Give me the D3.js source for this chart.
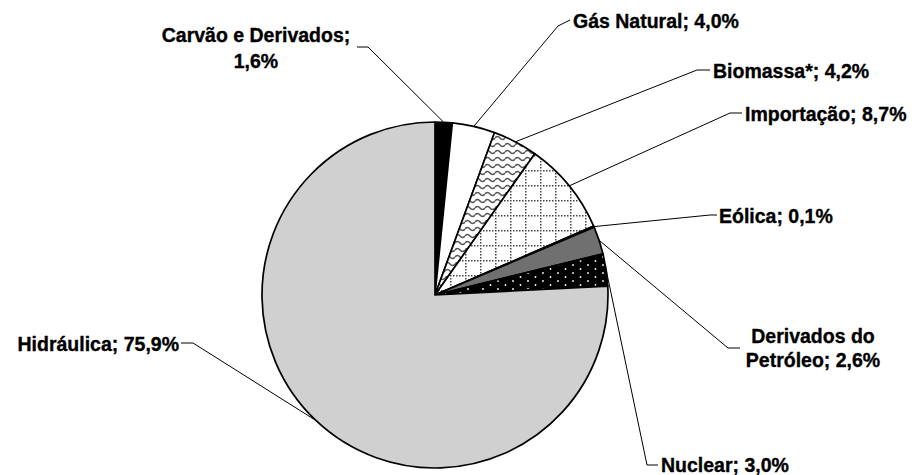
<!DOCTYPE html>
<html>
<head>
<meta charset="utf-8">
<script src="https://cdn.jsdelivr.net/npm/d3@7"></script>
<style>
  body { margin: 0; background: #fff; }
  text { font-family: "Liberation Sans", Arial, sans-serif; font-weight: bold; font-size: 19.5px; fill: #000; stroke: #000; stroke-width: 0.35px; }
</style>
</head>
<body>
<div class="board"></div>
<script>
// data, clockwise from 12 o'clock
var categories = ["Carvão e Derivados", "Gás Natural", "Biomassa*", "Importação", "Eólica",
                  "Derivados do Petróleo", "Nuclear", "Hidráulica"];
var values = [1.6, 4.0, 4.2, 8.7, 0.1, 2.6, 3.0, 75.9];
var valueLabels = ["1,6%", "4,0%", "4,2%", "8,7%", "0,1%", "2,6%", "3,0%", "75,9%"];

// label layout: elbow point, end of horizontal tick, text lines
var labelLayout = [
  {elbow: [368, 47], tick: [357, 47], anchor: "middle", x: 256, lines: [[42, "Carvão e Derivados;"], [68, "{v}"]]},
  {elbow: [558, 26], tick: [570, 20], anchor: "start", x: 573, lines: [[28, "{c}; {v}"]]},
  {elbow: [697, 70], tick: [710, 70], anchor: "start", x: 713, lines: [[78, "{c}; {v}"]]},
  {elbow: [730, 113], tick: [742, 113], anchor: "start", x: 745, lines: [[121, "{c}; {v}"]]},
  {elbow: [710, 215], tick: [717, 215], anchor: "start", x: 719, lines: [[223, "{c}; {v}"]]},
  {elbow: [728, 348], tick: [740, 348], anchor: "middle", x: 813, lines: [[343, "Derivados do"], [367, "Petróleo; {v}"]]},
  {elbow: [647, 465], tick: [658, 465], anchor: "start", x: 661, lines: [[472, "{c}; {v}"]]},
  {elbow: [193, 343], tick: [181, 343], anchor: "end", x: 179, lines: [[351, "{c}; {v}"]]}
];

var W = 917, H = 475;
var cx = 435, cy = 295, R = 173;

var svg = d3.select(".board").append("svg")
  .attr("width", W)
  .attr("height", H);

var defs = svg.append("defs");

// wavy pattern (biomassa)
var wave = defs.append("pattern").attr("id", "wave")
  .attr("patternUnits", "userSpaceOnUse").attr("width", 10).attr("height", 7);
wave.append("rect").attr("width", 10).attr("height", 7).attr("fill", "#fff");
wave.append("path").attr("d", "M0,4 Q2.5,1 5,4 T10,4")
  .attr("fill", "none").attr("stroke", "#555").attr("stroke-width", 1.6);

// dotted grid (importacao)
var grid = defs.append("pattern").attr("id", "grid")
  .attr("patternUnits", "userSpaceOnUse").attr("width", 15).attr("height", 15)
  .attr("x", cx).attr("y", cy);
grid.append("rect").attr("width", 15).attr("height", 15).attr("fill", "#fff");
grid.append("path").attr("d", "M0.75,0V15M0,0.75H15")
  .attr("stroke", "#444").attr("stroke-width", 1.5).attr("stroke-dasharray", "1.5,1.5");

// black with white dots (nuclear)
var dots = defs.append("pattern").attr("id", "dots")
  .attr("patternUnits", "userSpaceOnUse").attr("width", 15).attr("height", 8);
dots.append("rect").attr("width", 15).attr("height", 8).attr("fill", "#000");
dots.append("circle").attr("cx", 3).attr("cy", 2).attr("r", 0.9).attr("fill", "#fff");
dots.append("circle").attr("cx", 10.5).attr("cy", 6).attr("r", 0.9).attr("fill", "#fff");

// gradient (derivados do petroleo)
var grad = defs.append("linearGradient").attr("id", "grad")
  .attr("gradientUnits", "userSpaceOnUse")
  .attr("x1", cx).attr("y1", cy).attr("x2", cx + R).attr("y2", cy - 50);
grad.append("stop").attr("offset", "0").attr("stop-color", "#707070");
grad.append("stop").attr("offset", "1").attr("stop-color", "#b0b0b0");

var fills = ["#000", "#fff", "url(#wave)", "url(#grid)", "#fff", "url(#grad)", "url(#dots)", "#d0d0d0"];

var pie = d3.pie().sort(null).value(function(d) { return d; });
var arcs = pie(values);
var arc = d3.arc().innerRadius(0).outerRadius(R);

var g = svg.append("g").attr("transform", "translate(" + cx + "," + cy + ")");

g.selectAll("path.slice").data(arcs)
  .enter().append("path")
  .attr("class", "slice")
  .attr("d", arc)
  .attr("fill", function(d, i) { return fills[i]; })
  .attr("stroke", "#000")
  .attr("stroke-width", 1.7)
  .attr("stroke-linejoin", "round");

// leader lines
svg.selectAll("polyline.leader").data(arcs)
  .enter().append("polyline")
  .attr("class", "leader")
  .attr("fill", "none")
  .attr("stroke", "#000")
  .attr("stroke-width", 1)
  .attr("points", function(d, i) {
    var a = (d.startAngle + d.endAngle) / 2;
    var p = [cx + R * Math.sin(a), cy - R * Math.cos(a)];
    var L = labelLayout[i];
    return [p, L.elbow, L.tick].map(function(q) { return q.join(","); }).join(" ");
  });

// labels
labelLayout.forEach(function(L, i) {
  L.lines.forEach(function(ln) {
    svg.append("text")
      .attr("x", L.x)
      .attr("y", ln[0])
      .attr("text-anchor", L.anchor)
      .text(ln[1].replace("{c}", categories[i]).replace("{v}", valueLabels[i]));
  });
});
</script>
</body>
</html>
